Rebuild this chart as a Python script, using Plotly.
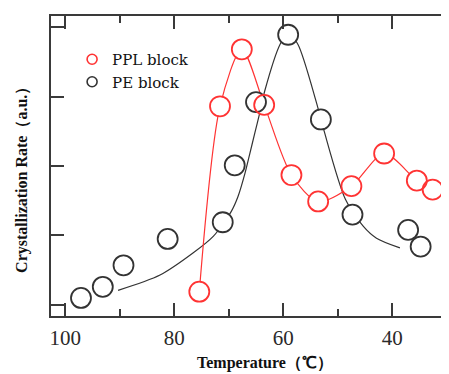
import plotly.graph_objects as go

# ---- data ----
ppl_temp = [75.4, 71.6, 67.6, 63.5, 58.5, 53.6, 47.5, 41.5, 35.5, 32.6]
ppl_rate = [0.19, 2.86, 3.68, 2.88, 1.87, 1.49, 1.71, 2.18, 1.79, 1.66]

pe_temp = [97.1, 93.1, 89.3, 81.2, 71.1, 68.9, 65.0, 59.1, 53.1, 47.3, 37.1, 34.8]
pe_rate = [0.10, 0.26, 0.57, 0.95, 1.19, 2.01, 2.92, 3.89, 2.67, 1.30, 1.08, 0.84]

# fitted guide curve for PE block
pe_fit_temp = [90.3, 82.6, 76.5, 72.8, 69.5, 68.3, 67.0, 66.1, 65.2, 64.3, 63.4, 60.6, 59.1,
               57.3, 53.9, 52.6, 48.6, 45.3, 42.9, 38.6]
pe_fit_rate = [0.21, 0.43, 0.75, 0.99, 1.35, 1.56, 1.90, 2.19, 2.48, 2.77, 3.08, 3.75, 3.92,
               3.75, 2.91, 2.53, 1.52, 1.13, 0.96, 0.82]

x_major = [100, 80, 60, 40]
x_major_labels = ["100", "80", "60", "40"]
x_minor = [90, 70, 50, 30]
y_ticks = [0, 1, 2, 3, 4]

x_title = "Temperature（℃）"
y_title = "Crystallization Rate（a.u.）"

RED = "#ff3333"
BLACK = "#333333"
AXIS = "#3a3a3a"

fig = go.Figure()

fig.add_trace(go.Scatter(x=pe_fit_temp, y=pe_fit_rate, mode="lines",
                         line=dict(color=BLACK, width=1.2, shape="spline", smoothing=0.8),
                         showlegend=False, hoverinfo="skip"))
fig.add_trace(go.Scatter(x=ppl_temp, y=ppl_rate, mode="lines",
                         line=dict(color=RED, width=1.2, shape="spline", smoothing=0.8),
                         showlegend=False, hoverinfo="skip"))

# white fills to hide lines inside circles
fig.add_trace(go.Scatter(x=pe_temp + ppl_temp, y=pe_rate + ppl_rate, mode="markers",
                         marker=dict(size=19, color="white", line=dict(width=0)),
                         showlegend=False, hoverinfo="skip"))
# outlines
fig.add_trace(go.Scatter(x=pe_temp, y=pe_rate, mode="markers", name="PE block",
                         marker=dict(size=20, color="rgba(0,0,0,0)", line=dict(color=BLACK, width=1.8)),
                         showlegend=False))
fig.add_trace(go.Scatter(x=ppl_temp, y=ppl_rate, mode="markers", name="PPL block",
                         marker=dict(size=20, color="rgba(0,0,0,0)", line=dict(color=RED, width=1.8)),
                         showlegend=False))

# legend entries
fig.add_trace(go.Scatter(x=[None], y=[None], mode="markers", name="PPL block",
                         marker=dict(size=10, color="rgba(0,0,0,0)", line=dict(color=RED, width=1.6))))
fig.add_trace(go.Scatter(x=[None], y=[None], mode="markers", name="PE block",
                         marker=dict(size=10, color="rgba(0,0,0,0)", line=dict(color=BLACK, width=1.6))))

# right-side ticks (no visible line)
fig.add_trace(go.Scatter(x=[None], y=[None], yaxis="y2", showlegend=False, hoverinfo="skip"))

# The page body has an 8px margin, so the figure is sized/positioned to compensate.
fig.update_layout(
    width=441, height=366,
    margin=dict(l=43, r=0, t=8, b=58, autoexpand=False),
    paper_bgcolor="white", plot_bgcolor="white",
    font=dict(family="Liberation Serif", color="#222222"),
    legend=dict(x=0.053, y=0.91, xanchor="left", yanchor="top",
                bgcolor="rgba(0,0,0,0)", borderwidth=0,
                font=dict(family="DejaVu Serif", size=15, color="#111111"),
                tracegroupgap=0, itemwidth=30),
    xaxis=dict(
        range=[102.6, 29.6], autorange=False, automargin=False,
        showgrid=False, zeroline=False,
        showline=True, linecolor=AXIS, linewidth=2, mirror="ticks",
        ticks="inside", ticklen=13, tickwidth=1.8, tickcolor=AXIS,
        tickvals=x_major, ticktext=x_major_labels, ticklabelstandoff=2,
        tickfont=dict(family="Liberation Serif", size=21, color="#2a2a2a"),
        minor=dict(tickvals=x_minor, ticks="inside", ticklen=7, tickwidth=1.8, tickcolor=AXIS),
    ),
    yaxis=dict(
        range=[-0.16, 4.16], autorange=False, automargin=False,
        showgrid=False, zeroline=False,
        showline=True, linecolor=AXIS, linewidth=2, mirror=False,
        ticks="inside", ticklen=13, tickwidth=1.8, tickcolor=AXIS,
        tickvals=y_ticks, showticklabels=False,
    ),
    yaxis2=dict(
        overlaying="y", side="right", range=[-0.16, 4.16], autorange=False, automargin=False,
        showgrid=False, zeroline=False, showline=False,
        ticks="inside", ticklen=5, tickwidth=1.8, tickcolor=AXIS,
        tickvals=y_ticks, showticklabels=False,
    ),
    annotations=[
        dict(text="<b>" + x_title + "</b>", xref="paper", yref="paper",
             x=0.5377, y=-0.158, xanchor="center", yanchor="middle", showarrow=False,
             font=dict(family="Liberation Serif", size=16, color="#111111")),
        dict(text="<b>" + y_title + "</b>", xref="paper", yref="paper",
             x=-0.0729, y=0.467, xanchor="center", yanchor="middle", showarrow=False,
             textangle=-90,
             font=dict(family="Liberation Serif", size=16, color="#111111")),
    ],
)

fig.write_html("out.html")
